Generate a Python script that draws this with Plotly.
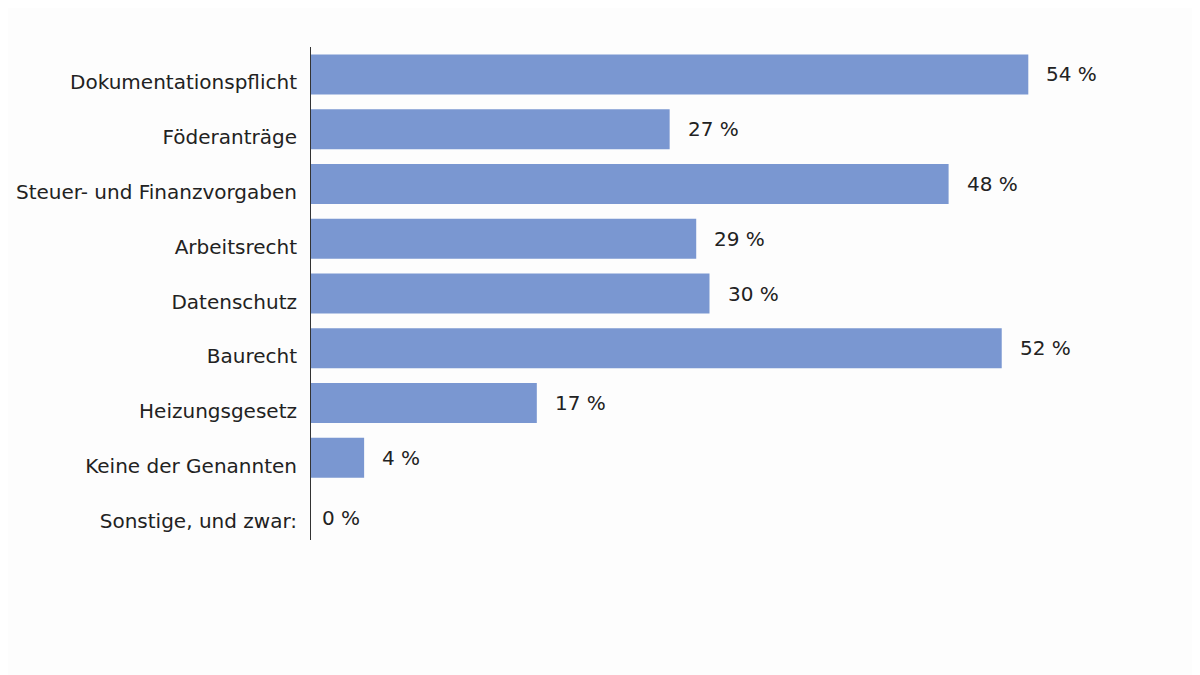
import plotly.graph_objects as go

categories = ["Dokumentationspflicht", "Föderanträge", "Steuer- und Finanzvorgaben",
              "Arbeitsrecht", "Datenschutz", "Baurecht", "Heizungsgesetz",
              "Keine der Genannten", "Sonstige, und zwar:"]
values = [54, 27, 48, 29, 30, 52, 17, 4, 0]
labels = [f"{v} %" for v in values]

FONT = "DejaVu Sans"

fig = go.Figure()
fig.add_trace(go.Bar(
    x=values, y=categories, orientation="h",
    marker=dict(color="#7A97D1", line=dict(width=0)),
    hoverinfo="skip",
))

for c, v, t in zip(categories, values, labels):
    fig.add_annotation(x=v, y=c, text=t, showarrow=False, xanchor="left",
                       xshift=16 if v > 0 else 9, yshift=0 if v > 0 else -5,
                       font=dict(family=FONT, size=20, color="#222222"))

fig.update_layout(
    width=1200, height=675,
    margin=dict(l=303, r=100, t=39, b=143, autoexpand=False),
    paper_bgcolor="#fdfdfd", plot_bgcolor="#fdfdfd",
    bargap=0.27, showlegend=False,
    font=dict(family=FONT, size=20, color="#222222"),
    xaxis=dict(range=[0, 60], visible=False, fixedrange=True, automargin=False),
    yaxis=dict(autorange="reversed", showline=True, linecolor="#333333", linewidth=1,
               ticks="", showgrid=False, zeroline=False, ticklabelshift=-8, automargin=False,
               ticklabelstandoff=9, tickfont=dict(family=FONT, size=20, color="#222222")),
)

fig.write_html("out.html")
